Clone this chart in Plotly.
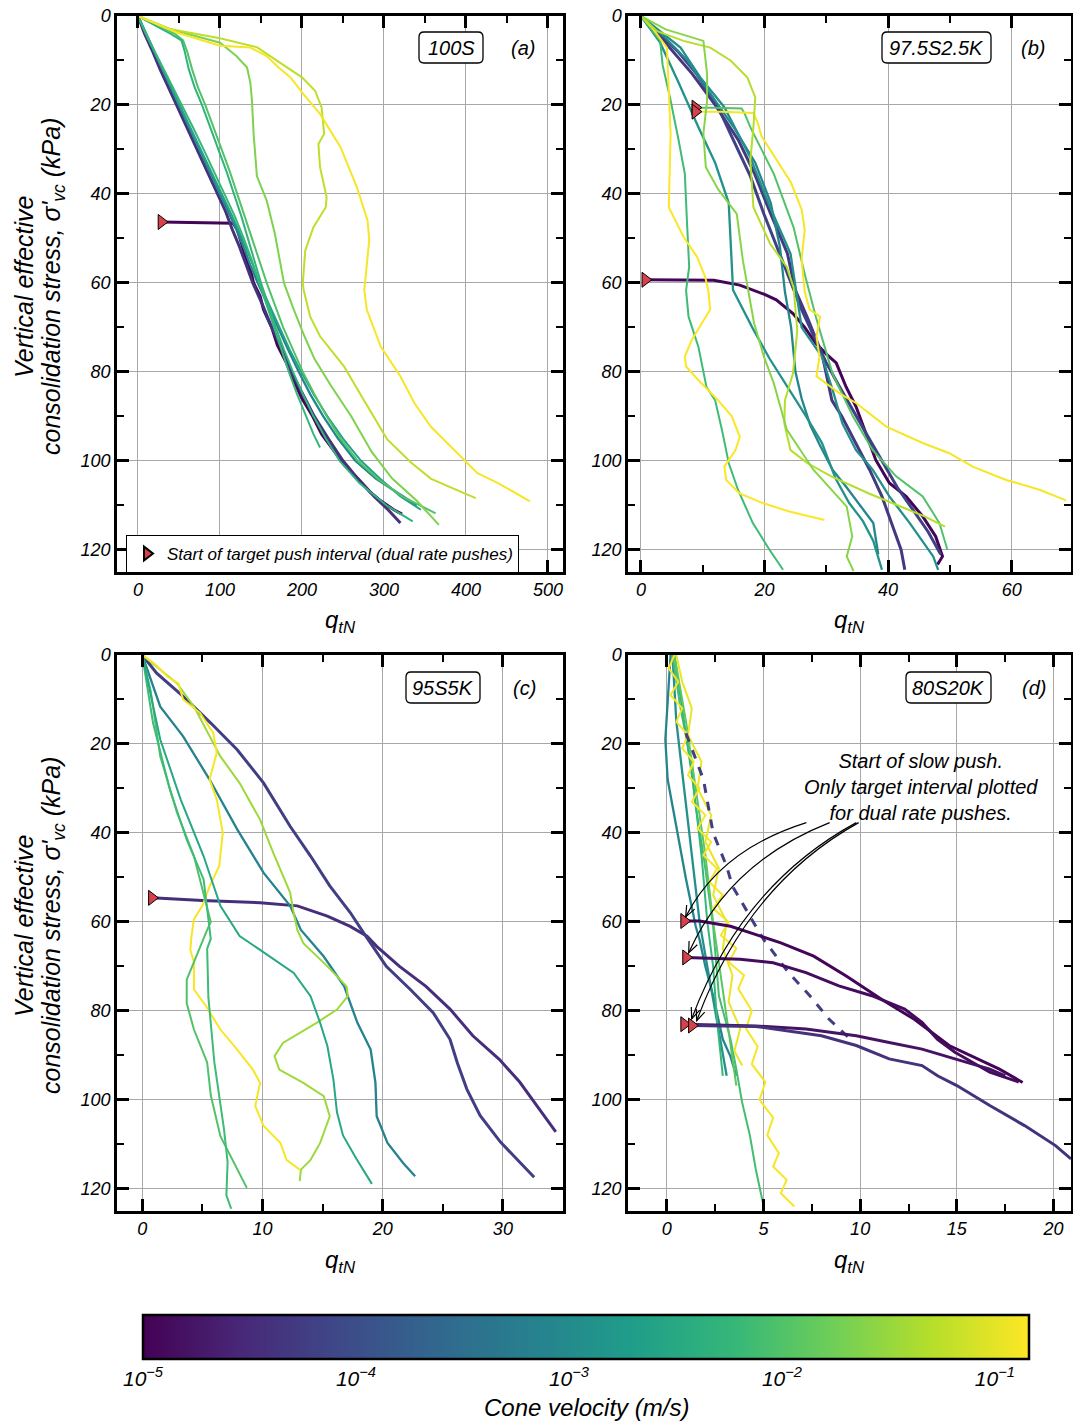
import plotly.graph_objects as go
from plotly.colors import sample_colorscale
import math

W, H = 1073, 1425
LOGV_MIN, LOGV_MAX = -5.0, -0.84

# ---------------- DATA ----------------
# Panel (a) 100S : q_tN (x) vs sigma'_vc kPa (y), cone velocity m/s
A_Q = [
    [28.6, 70, 116, 121, 126, 131, 137, 141, 149, 153, 163, 170, 181, 190, 200, 213, 224, 240, 252, 268, 283, 296, 312, 322],
    [0, 8, 18, 27, 37, 47, 57, 66, 76, 86, 97, 107, 115, 124, 132, 140, 152, 163, 176, 187, 201, 215, 232, 250, 268, 288, 305, 320],
    [0, 10, 20, 30, 41, 51, 60, 70, 80, 91, 101, 111, 120, 129, 137, 146, 158, 170, 183, 196, 210, 226, 244, 265, 290, 315, 340],
    [0, 12, 25, 38, 51, 64, 77, 90, 103, 115, 127, 138, 148, 160, 172, 185, 199, 214, 231, 250, 272, 295, 320, 345],
    [0, 12, 26, 40, 54, 67, 80, 93, 106, 118, 129, 139, 148, 157, 166, 175, 184, 194, 205, 214, 222],
    [0, 25, 45, 55, 60, 66, 73, 82, 92, 102, 112, 121, 130, 139, 148, 157, 167, 177, 189, 201, 215, 230, 247, 268, 292, 322, 363],
    [0, 20, 40, 53, 57, 62, 69, 78, 88, 98, 108, 117, 126, 134, 142, 150, 159, 168, 178, 189, 201, 214, 229, 246, 270, 303, 335],
    [0, 40, 100, 120, 133, 137, 139, 141, 145, 157, 167, 178, 190, 203, 215, 235, 260, 285, 310, 340, 367],
    [0, 40, 100, 145, 173, 200, 216, 224, 227, 220, 222, 230, 229, 214, 204, 201, 202, 210, 222, 251, 275, 304, 333, 357, 394, 412],
    [0, 47, 100, 137, 157, 169, 186, 202, 222, 247, 267, 280, 282, 278, 276, 279, 296, 320, 337, 357, 390, 414, 439, 478],
]
A_S = [
    [46.3, 46.4, 46.6, 48, 51, 54, 57, 60, 63, 66, 70, 74, 78, 82, 86, 90, 94, 98, 101, 104, 107, 109, 111, 112],
    [0, 4, 8, 12, 16, 20, 24, 28, 32, 36, 40, 44, 48, 52, 56, 60, 65, 70, 75, 80, 85, 90, 95, 100, 104, 108, 111, 114],
    [0, 4, 8, 12, 16, 20, 24, 28, 32, 36, 40, 44, 48, 52, 56, 60, 65, 70, 75, 80, 85, 90, 95, 100, 104, 107, 110],
    [0, 5, 10, 15, 20, 25, 30, 35, 40, 45, 50, 55, 60, 65, 70, 75, 80, 85, 90, 95, 100, 104, 108, 111],
    [0, 5, 10, 15, 20, 25, 30, 35, 40, 45, 50, 55, 60, 65, 70, 75, 80, 85, 90, 94, 97],
    [0, 2, 4, 5.5, 8, 12, 16, 20, 25, 30, 35, 40, 45, 50, 55, 60, 65, 70, 75, 80, 85, 90, 95, 100, 104, 108, 111.8],
    [0, 2, 4, 5.5, 8, 12, 16, 20, 25, 30, 35, 40, 45, 50, 55, 60, 65, 70, 75, 80, 85, 90, 95, 100, 105, 110, 113.6],
    [0, 3, 6, 9, 11.6, 15, 19, 26.5, 36, 41.5, 49, 60, 66, 72, 77, 83, 90, 98, 104, 109, 114.4],
    [0, 3, 5, 7, 10.5, 13.8, 16.8, 20.6, 26.5, 28.8, 34, 40.7, 43, 47.5, 52.7, 60, 61.6, 67.6, 72, 78.7, 86.2, 95.2, 100.4, 104, 107, 108.4],
    [0, 3.7, 6.7, 7.1, 9, 11.2, 13.8, 17.6, 22, 29.5, 38.5, 46, 50.4, 58, 61.6, 66, 74.3, 81, 87, 92.3, 98.3, 102.8, 105, 109.1],
]
A_V = [1.1e-5, 4.0e-5, 8.0e-4, 2.5e-3, 6.0e-3, 1.0e-2, 5.0e-3, 2.2e-2, 5.6e-2, 1.3e-1]
A_MARK = [0]

# Panel (b) 97.5S2.5K
B_Q = [
    [0.7, 5, 11.8, 16, 18.2, 20, 21.9, 24.6, 26.5, 28.3, 30, 31.6, 33.2, 34.8, 36.4, 38, 40.2, 42.9, 45.6, 47.7, 48.8, 48],
    [0, 2, 4.2, 8.3, 12, 15.8, 18.4, 21, 23.7, 25, 27, 29.3, 30.9, 32.5, 34.8, 37, 39, 40.5, 42.1, 42.7],
    [0, 3, 6, 9, 12.3, 15, 17.7, 19.9, 22, 24.7, 26, 28, 30, 32, 34, 36.5, 39, 41.5, 44, 46.5, 48.5],
    [0, 4, 7.5, 11, 15, 18.5, 21, 22.5, 23.3, 24.3, 25, 26, 27.4, 29, 31, 33.3, 35.5, 37.6, 38.4],
    [0, 3.1, 6.1, 9.3, 12, 14.2, 14.9, 16.5, 18, 20.8, 24, 26.5, 29.3, 31.5, 33.7, 35.9, 37.6, 39],
    [0, 6.4, 9.6, 13.5, 17.7, 20.9, 24.2, 25.2, 26, 29.3, 31, 32.6, 34.8, 37.5, 40.2, 43.5, 47.3, 48.1],
    [0, 3.1, 3.5, 4.8, 6.1, 7.1, 7.4, 7.8, 7.3, 7.7, 9.3, 10.6, 12, 13.1, 14.2, 15.7, 18.1, 20.8, 23],
    [8.8, 12, 16.3, 16.8, 17.7, 19.3, 21.5, 23.1, 24.7, 26.5, 28.3, 31, 34.3, 37.5, 41.3, 45.6, 48.3, 49.6],
    [8.8, 13, 18.2, 18.9, 19.5, 21.5, 24.3, 26, 26.5, 26, 26.5, 27.3, 29, 28.4, 28.9, 28.4, 32.2, 34.8, 39.7, 45.6, 49.9, 53.7, 59.1, 64.5, 68.8],
    [0, 2, 4.2, 4.5, 4.8, 4.5, 6.9, 9.1, 10.4, 10.9, 11.2, 9.8, 8.2, 7.1, 7.3, 9.3, 12.5, 14.7, 16, 15.3, 13.5, 13.8, 15.9, 19.7, 24, 29.7],
    [0, 2.6, 6.9, 11.2, 14.5, 17.2, 18.5, 18.2, 17.7, 18.2, 20.9, 23.6, 24.7, 25.3, 24.6, 23.3, 23.2, 24.2, 26.9, 30.8, 36.8, 42.1, 45.9, 49.2],
    [0, 4, 10.1, 10.7, 10.7, 10.1, 10.5, 12.5, 15.5, 16.5, 18.3, 19.9, 21.5, 23.6, 27.9, 33.3, 34.2, 33.3, 34.4],
]
B_S = [
    [59.3, 59.3, 59.4, 60.5, 61.6, 62.6, 63.8, 66.9, 70, 73.6, 76, 78, 83.4, 87.8, 93.8, 99.8, 105, 108, 112.5, 117, 121.5, 123.3],
    [0, 3, 6.4, 13, 20, 28, 35.5, 44.5, 53.4, 61.7, 68, 76, 86.4, 90, 96, 102, 108, 114, 120, 124.5],
    [0, 4, 8, 13, 20, 28, 36, 44.5, 52, 61.7, 66, 72, 78, 83, 88, 94, 100, 106, 111, 116, 121],
    [0, 5, 10, 17, 25, 33, 42, 52, 62, 70, 80, 86, 92, 96.6, 102, 106, 110, 114, 121],
    [0, 6, 15, 25, 33, 42, 61.6, 66, 70, 77, 84, 89.5, 96, 104, 109.5, 113.5, 118, 124.5],
    [0, 7.1, 13.8, 20.5, 31.8, 43, 53.4, 62.4, 70, 76.6, 84, 91.6, 97.6, 102, 108, 114, 121.5, 124.5],
    [0, 5.6, 11, 19, 28, 35.5, 45, 56.4, 61.7, 67.6, 74.4, 83.4, 86.4, 93, 100.5, 106.5, 114, 120, 124.5],
    [20.6, 20.6, 20.8, 22, 25, 29.5, 35.5, 41.5, 47.5, 58, 67.6, 80.4, 90, 97.6, 103.5, 108, 114, 120],
    [21.5, 21.5, 21.8, 24, 27, 31.5, 37.5, 43.5, 48, 54.8, 62, 66, 67.6, 72, 76.6, 81, 84.9, 87, 92.3, 96, 98.3, 101.3, 104.3, 106.5, 108.9],
    [0, 3, 7.1, 19, 26.5, 43, 49.7, 54.2, 58.7, 61.7, 66, 69.2, 72.9, 76.6, 78.8, 81.9, 86.4, 90, 94.6, 97.6, 101.3, 104.3, 107.3, 109.5, 111.4, 113.3],
    [0, 3.4, 5.6, 7.1, 10, 13.8, 18.3, 25, 32.5, 43, 51.2, 56.4, 61, 70.7, 80.4, 86.4, 91.6, 97.6, 100.5, 103.5, 107.3, 110.3, 112.5, 114.8],
    [0, 3, 5.6, 13, 19, 26.5, 34, 39, 44.5, 55, 69, 76.6, 82.6, 93, 102, 110.3, 117, 121.5, 124.8],
]
B_V = [1.1e-5, 5.0e-5, 6.5e-5, 8.0e-4, 1.3e-3, 1.1e-3, 7.0e-3, 1.0e-2, 1.3e-1, 1.4e-1, 5.0e-2, 2.5e-2]
B_MARK = [0, 7, 8]

# Panel (c) 95S5K
C_Q = [
    [0.8, 5, 9.8, 12.9, 15.4, 17.3, 18.7, 19.5, 21.4, 23.6, 25.6, 27.5, 29.7, 31.4, 33, 34.4],
    [0, 1.2, 3.4, 5.7, 7.9, 10.1, 12.3, 14, 15.6, 17.3, 18.4, 19.2, 20.3, 22.3, 24.2, 25.6, 26.2, 27, 28.1, 29.8, 32.6],
    [0, 1.5, 3.4, 5.6, 7.9, 10.1, 12.3, 13.2, 15.1, 16.8, 17.9, 19, 19.4, 19.5, 20.4, 21.7, 22.7],
    [0, 1.5, 2.9, 4.3, 5.6, 6.5, 8.1, 9.8, 10.9, 12.3, 12.6, 12.9, 13.4, 15.4, 17, 17.1, 16.2, 14.5, 11.7, 11, 11.4, 13.4, 15.1, 15.6, 14.8, 14, 13.2, 13.1],
    [0, 1, 2.1, 3, 3.4, 4.8, 5.9, 6.2, 5.6, 6.2, 6.7, 6.4, 5.6, 5, 4.3, 4.1, 4, 4.3, 4.3, 5.3, 6.5, 7.9, 9.2, 9.8, 9.4, 10.1, 11.5, 12, 13.1],
    [0, 0.7, 1.5, 2.9, 4.3, 5.1, 5.7, 5.4, 4.6, 3.7, 3.7, 4.3, 5.4, 5.7, 6.5, 7.9, 8.7],
    [0, 0.9, 2.3, 3.7, 5.1, 5.7, 5.4, 5.5, 6, 6.8, 7.1, 7, 7.4],
    [0, 1.5, 3.2, 5.1, 6.5, 8.1, 9.8, 12.6, 14, 14.8, 15.4, 15.9, 16.2, 16.7, 17.8, 18.7, 19.1],
]
C_S = [
    [54.6, 55.2, 55.7, 56.4, 58.7, 61, 63.2, 65.5, 70, 74.5, 79.6, 85.6, 90.9, 96, 102, 107.2],
    [0, 4.1, 9.3, 15.3, 21.3, 28.8, 38.5, 45.2, 51.9, 57.9, 62.4, 65.5, 70, 75.2, 80.4, 86.4, 91.6, 97.6, 103.5, 109.5, 117.4],
    [0, 11.6, 18.3, 28, 39.2, 49, 56.4, 61.8, 67.8, 74.5, 82.7, 88.7, 96.2, 103.7, 109.7, 114.2, 117.2],
    [0, 3.4, 6.4, 11.6, 18.3, 22.8, 28.8, 37, 44.5, 53.4, 58, 61.8, 64.8, 70, 74.5, 76.7, 79.7, 82.7, 87.2, 90.2, 93.2, 96.2, 99.2, 103.7, 109.7, 113.5, 115.7, 118.3],
    [0, 1.9, 4.9, 6.4, 10, 13, 17.5, 22, 28, 32.5, 40, 47.5, 52, 56.4, 59.4, 63.2, 66.3, 69, 75.2, 78.9, 84.2, 88.7, 93.2, 96.2, 101.4, 105.9, 109.7, 113.5, 115.7],
    [0, 8, 22.8, 35.5, 45.2, 53.4, 60, 61.8, 67, 73, 78.3, 84.2, 91.6, 99, 108.2, 115.7, 119.8],
    [0, 15.3, 30.3, 41.5, 50.4, 63.8, 66, 76.9, 91.6, 106.6, 114, 121.5, 124.5],
    [0, 19, 32.5, 45.2, 56.4, 63.2, 66.3, 71.5, 76.7, 82.7, 87.9, 95.4, 102.8, 108, 113.2, 117, 118.9],
]
C_V = [3.5e-5, 6.0e-5, 7.0e-4, 3.5e-2, 1.3e-1, 1.0e-2, 7.0e-3, 3.0e-3]
C_MARK = [0]

# Panel (d) 80S20K
D_Q = [
    [0.2, 0.1, -0.07, 0.05, 0.48, 1.0, 1.5, 1.7, 2.0, 2.4, 2.9, 3.3, 3.6],
    [0.3, 0.5, 0.9, 1.3, 1.7, 2.1, 2.5, 2.9, 3.1],
    [0.3, 0.7, 1.2, 1.5, 1.9, 2.4, 2.7, 3.3, 3.6, 3.9, 4.3, 4.6, 5.0],
    [0.4, 0.9, 1.4, 1.8, 2.1, 2.4, 2.6, 2.9],
    [0.4, 1.0, 1.5, 2.0, 2.4, 2.8, 3.2, 3.6],
    [0.4, 0.1, 0.6, 0.2, 0.8, 0.5, 1.1, 0.8, 1.4, 1.1, 1.7, 1.3, 2.0, 1.6, 2.3, 1.9, 2.6, 2.2, 2.9, 2.4, 3.2, 2.8, 3.6, 3.2,
     4.0, 3.7, 4.4, 4.1, 4.7, 4.4, 5.1, 4.8, 5.5, 5.2, 5.8, 5.5, 6.2, 5.9, 6.6],
    [0.5, 0.8, 1.3, 1.1, 1.8, 1.6, 2.3, 2.0, 2.7, 2.4, 3.1, 2.9, 3.4, 3.2, 3.8, 3.5, 3.9],
    [1.0, 1.9, 2.4, 3.1, 3.4, 5.0, 6.3, 7.4, 8.4, 9.5],
    [0.9, 1.7, 3.3, 5.0, 5.9, 7.6, 9.3, 11.1, 12.8, 14.6, 17.2, 18.4],
    [1.0, 3.8, 5.5, 7.2, 8.9, 10.6, 12.3, 13.2, 14.0, 14.9, 16.7, 18.2],
    [0.9, 4.6, 7.2, 9.8, 11.5, 13.2, 14.9, 16.7, 17.5],
    [1.3, 4.6, 8.0, 9.8, 11.5, 13.2, 14.0, 15.0, 16.7, 18.5, 20.1, 20.9],
]
D_S = [
    [0, 7.8, 19, 28, 38.5, 50.4, 61, 64, 70, 76.6, 86.4, 90.3, 94.6],
    [0, 15, 30, 45, 60, 70, 80, 90, 94.6],
    [0, 11.6, 22.8, 34, 45, 61, 76.6, 86.4, 93.1, 100.6, 108, 115.5, 123.7],
    [0, 15, 30, 45, 60, 70, 82, 94.6],
    [0, 15, 30, 45, 60, 72, 84, 96.8],
    [0, 3, 6, 9, 12, 15, 18, 21, 24, 27, 30, 33, 36, 39, 42, 45, 48, 51, 54, 57, 60, 63, 66, 69,
     72, 75, 80, 84, 88, 92, 96, 100, 104, 108, 112, 115, 118, 121, 124],
    [0, 6, 12, 18, 24, 30, 36, 42, 48, 54, 60, 66, 72, 78, 84, 89, 92.3],
    [17.6, 28, 40, 47.5, 52, 63.9, 71.4, 76.6, 81.9, 86.4],
    [59.8, 59.8, 61, 63.5, 64.7, 67.7, 72.2, 77.4, 81.9, 87.8, 93.1, 96.1],
    [68, 68.4, 69.2, 71.4, 74.4, 76.6, 79.6, 82.6, 86.4, 89.3, 93.8, 96],
    [83, 83.4, 84.1, 85.6, 87.1, 88.6, 90.8, 93.1, 94.6],
    [83.3, 83.5, 85.6, 87.8, 90.8, 92.3, 94.6, 96.8, 101.3, 105.8, 110.3, 113.3],
]
D_V = [8.0e-4, 1.2e-3, 8.0e-3, 6.0e-3, 1.2e-2, 1.3e-1, 1.1e-1, 6.0e-5, 1.1e-5, 1.3e-5, 1.6e-5, 4.0e-5]
D_MARK = [8, 9, 10, 11]

MIXES = ["100S", "97.5S2.5K", "95S5K", "80S20K"]
PANEL_TAGS = ["(a)", "(b)", "(c)", "(d)"]
X_TICK_STEP = [100, 20, 10, 5]
X_RANGES = [[-25.6, 518.3], [-2.1, 69.6], [-2.1, 35.0], [-2.0, 20.9]]
CBAR_TICKS = [-5, -4, -3, -2, -1]
Y_TITLE_1 = "Vertical effective"
Y_TITLE_2 = "consolidation stress, σ'<sub>vc</sub> (kPa)"
X_TITLE = "q<sub>tN</sub>"
CBAR_TITLE = "Cone velocity (m/s)"
LEGEND_TEXT = "Start of target push interval (dual rate pushes)"
ANNOT_TEXT = "Start of slow push.<br>Only target interval plotted<br>for dual rate pushes."

# ---------------- STYLE / LAYOUT ----------------
FONT = "Liberation Sans"
MARK_COLOR = "#d8414b"
D_DASHED = {7}


def px2paper_x(px):
    return px / W


def px2paper_y(py):
    return 1 - py / H


def vcolor(v):
    f = (math.log10(v) - LOGV_MIN) / (LOGV_MAX - LOGV_MIN)
    f = min(max(f, 0), 1)
    return sample_colorscale("Viridis", [f])[0]


def ital(size):
    return dict(family=FONT, size=size, style="italic", color="black")


# panel pixel boxes (left, top, right, bottom)
BOXES = [(117, 16, 563, 572), (628, 16, 1071, 572), (117, 655, 563, 1211), (628, 655, 1071, 1211)]
AX = [("x", "y"), ("x2", "y2"), ("x3", "y3"), ("x4", "y4")]

fig = go.Figure()

panels = [(A_Q, A_S, A_V, A_MARK), (B_Q, B_S, B_V, B_MARK), (C_Q, C_S, C_V, C_MARK), (D_Q, D_S, D_V, D_MARK)]
legend_done = False
for pi, (QQ, SS, VV, MM) in enumerate(panels):
    xa, ya = AX[pi]
    for li, (q, s, v) in enumerate(zip(QQ, SS, VV)):
        lv = math.log10(v)
        width = 3.0 if lv < -4.0 else (2.3 if lv < -2.8 else 2.0)
        fig.add_trace(go.Scatter(
            x=q, y=s, mode="lines", xaxis=xa, yaxis=ya,
            line=dict(color=vcolor(v), width=width,
                      dash="dash" if (pi == 3 and li in D_DASHED) else "solid"),
            showlegend=False, hoverinfo="skip"))
    mq = [QQ[i][0] for i in MM]
    ms = [SS[i][0] for i in MM]
    fig.add_trace(go.Scatter(
        x=mq, y=ms, mode="markers", xaxis=xa, yaxis=ya,
        marker=dict(symbol="triangle-right", size=13, color=MARK_COLOR,
                    line=dict(color="black", width=1)),
        name="<i>" + LEGEND_TEXT + "</i>",
        showlegend=not legend_done, hoverinfo="skip"))
    legend_done = True

# colorbar carrier
fig.add_trace(go.Scatter(
    x=[None], y=[None], mode="markers", xaxis="x", yaxis="y", showlegend=False,
    marker=dict(color=[LOGV_MIN], cmin=LOGV_MIN, cmax=LOGV_MAX, colorscale="Viridis", showscale=True,
                colorbar=dict(
                    orientation="h", x=px2paper_x(586), xanchor="center",
                    y=px2paper_y(1315), yanchor="top",
                    len=886, lenmode="pixels", thickness=44, thicknessmode="pixels",
                    outlinewidth=2.5, outlinecolor="black", xpad=0, ypad=0,
                    tickvals=CBAR_TICKS, ticktext=["10<sup>−%d</sup>" % (-t) for t in CBAR_TICKS],
                    ticks="", tickfont=ital(21),
                )),
    hoverinfo="skip"))

layout = dict(
    width=W, height=H, margin=dict(l=0, r=0, t=0, b=0, autoexpand=False),
    paper_bgcolor="white", plot_bgcolor="white",
    font=dict(family=FONT, color="black"),
    showlegend=True,
    legend=dict(x=px2paper_x(126), y=px2paper_y(535), xanchor="left", yanchor="top",
                bgcolor="white", bordercolor="black", borderwidth=1,
                font=ital(17), itemsizing="constant", tracegroupgap=0),
)

for pi in range(4):
    l, t, r, b = BOXES[pi]
    xa, ya = AX[pi]
    common = dict(showline=True, linecolor="black", linewidth=2.5, mirror="ticks",
                  ticks="inside", ticklen=12, tickwidth=2.5, tickcolor="black",
                  showgrid=True, gridcolor="#a8a8a8", gridwidth=1, zeroline=False,
                  tickfont=ital(18))
    xk = "xaxis" if pi == 0 else "xaxis%d" % (pi + 1)
    yk = "yaxis" if pi == 0 else "yaxis%d" % (pi + 1)
    layout[xk] = dict(common, domain=[px2paper_x(l), px2paper_x(r)], anchor=ya,
                      range=X_RANGES[pi], tick0=0, dtick=X_TICK_STEP[pi],
                      minor=dict(ticks="inside", ticklen=7, tickwidth=2, tickcolor="black",
                                 dtick=X_TICK_STEP[pi] / 2, showgrid=False))
    layout[yk] = dict(common, domain=[px2paper_y(b), px2paper_y(t)], anchor=xa,
                      range=[125, 0], tick0=0, dtick=20,
                      minor=dict(ticks="inside", ticklen=7, tickwidth=2, tickcolor="black",
                                 dtick=10, showgrid=False))

fig.update_layout(**layout)

annotations = []
shapes = []


def rounded_rect(x0, y0, x1, y1, r=5):
    X = px2paper_x
    Y = px2paper_y
    p = "M %f,%f L %f,%f Q %f,%f %f,%f L %f,%f Q %f,%f %f,%f L %f,%f Q %f,%f %f,%f L %f,%f Q %f,%f %f,%f Z" % (
        X(x0 + r), Y(y0), X(x1 - r), Y(y0), X(x1), Y(y0), X(x1), Y(y0 + r),
        X(x1), Y(y1 - r), X(x1), Y(y1), X(x1 - r), Y(y1),
        X(x0 + r), Y(y1), X(x0), Y(y1), X(x0), Y(y1 - r),
        X(x0), Y(y0 + r), X(x0), Y(y0), X(x0 + r), Y(y0))
    return dict(type="path", path=p, xref="paper", yref="paper",
                line=dict(color="black", width=1.3), fillcolor="white", layer="above")


def paper_text(text, px, py, size, angle=0):
    return dict(text=text, x=px2paper_x(px), y=px2paper_y(py), xref="paper", yref="paper",
                showarrow=False, xanchor="center", yanchor="middle", textangle=angle,
                align="center", font=ital(size))


MIX_BOXES = [(419, 32, 483, 63), (882, 32, 991, 63), (406, 672, 480, 703), (906, 672, 991, 703)]
TAG_POS = [(523, 48), (1033, 48), (524, 688), (1034, 688)]
for pi in range(4):
    x0, y0, x1, y1 = MIX_BOXES[pi]
    shapes.append(rounded_rect(x0, y0, x1, y1))
    annotations.append(paper_text(MIXES[pi], (x0 + x1) / 2, (y0 + y1) / 2 + 0.5, 20))
    tx, ty = TAG_POS[pi]
    annotations.append(paper_text(PANEL_TAGS[pi], tx, ty, 20))
    l, t, r, b = BOXES[pi]
    annotations.append(paper_text(X_TITLE, (l + r) / 2, b + 50, 24))

for cy in (287, 926):
    annotations.append(paper_text(Y_TITLE_1, 24, cy, 25, angle=-90))
    annotations.append(paper_text(Y_TITLE_2, 53, cy, 25, angle=-90))

annotations.append(paper_text(CBAR_TITLE, 586, 1407, 24))

# panel (d) note with curved arrows toward the markers
annotations.append(paper_text(ANNOT_TEXT, 921, 787, 20))


def pxd(px, py):
    # pixel -> data coordinates of panel (d)
    return (px - 667) / 19.35, (py - 655) / 4.45


ARROWS = [((806.7, 822.7), (720, 850), (686, 917)),
          ((830, 822.7), (730, 862), (689, 953)),
          ((856.7, 822.7), (742, 885), (692, 1019)),
          ((859, 822.7), (747, 885), (697, 1021))]
for (s, c, e) in ARROWS:
    sx, sy = pxd(*s)
    cx, cy = pxd(*c)
    ex, ey = pxd(*e)
    shapes.append(dict(type="path", xref="x4", yref="y4",
                       path="M %f,%f Q %f,%f %f,%f" % (sx, sy, cx, cy, ex, ey),
                       line=dict(color="black", width=1.2), layer="above"))
    dx, dy = c[0] - e[0], c[1] - e[1]
    n = math.hypot(dx, dy)
    ux, uy = dx / n, dy / n
    nx, ny = -uy, ux
    b1 = pxd(e[0] + 11 * ux + 4.5 * nx, e[1] + 11 * uy + 4.5 * ny)
    b2 = pxd(e[0] + 11 * ux - 4.5 * nx, e[1] + 11 * uy - 4.5 * ny)
    shapes.append(dict(type="path", xref="x4", yref="y4",
                       path="M %f,%f L %f,%f L %f,%f" % (b1[0], b1[1], ex, ey, b2[0], b2[1]),
                       line=dict(color="black", width=1.2), layer="above"))

fig.update_layout(annotations=annotations, shapes=shapes)
fig.write_html("out.html", config={"displayModeBar": False},
               post_script="document.body.style.margin='0px';")
